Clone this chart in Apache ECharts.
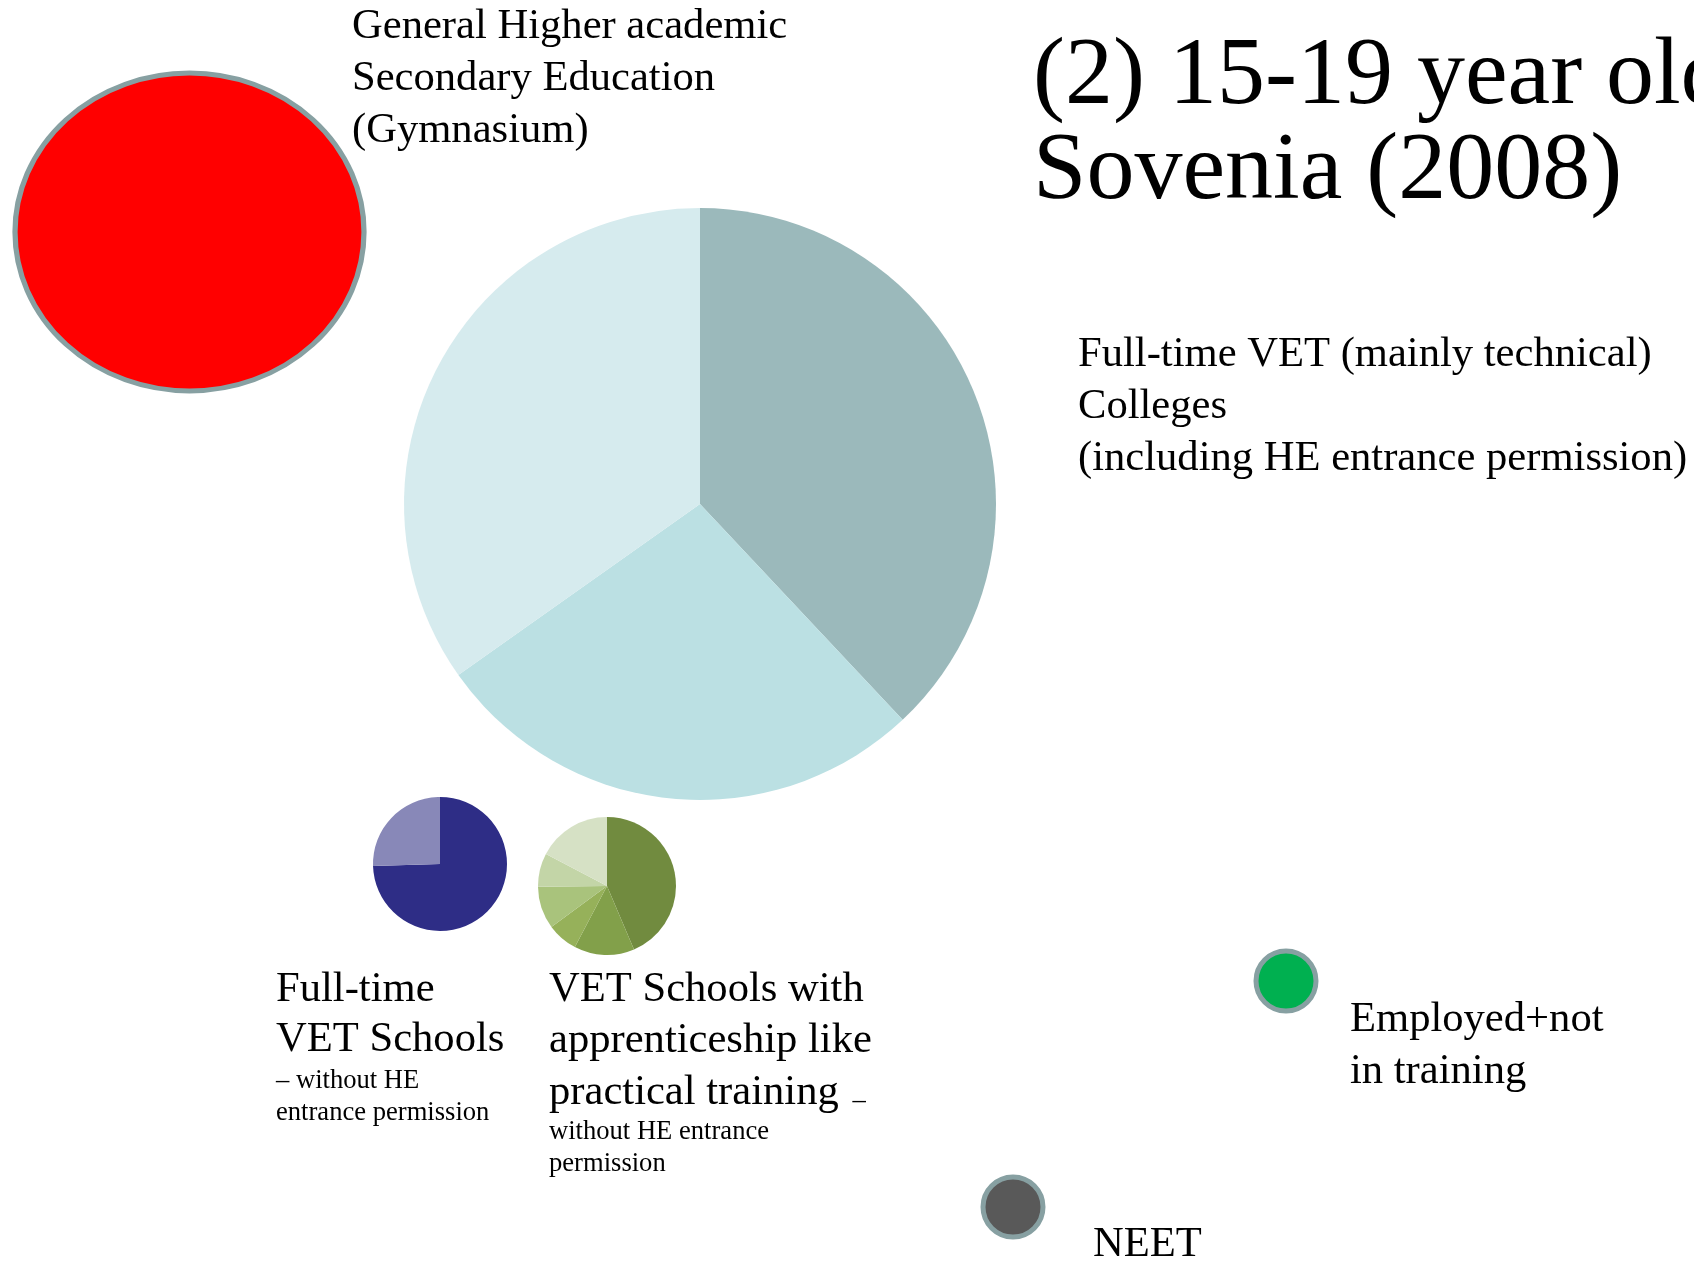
<!DOCTYPE html>
<html>
<head>
<meta charset="utf-8">
<script src="https://cdn.jsdelivr.net/npm/echarts@6/dist/echarts.min.js"></script>
<style>
  html, body { margin: 0; padding: 0; background: #ffffff; }
  #chart { width: 1694px; height: 1263px; }
</style>
</head>
<body>
<div id="chart"></div>
<script>
// Shares (%) of the sub-tracks inside each split bubble
const collegeShares = [38.0, 27.2, 34.8];
const vetSchoolShares = [74.5, 25.5];
const apprenticeShares = [43.6, 14.1, 7.2, 9.9, 7.9, 17.3];

// Single-colour bubbles
const soloNames = ['General Higher academic Secondary Education (Gymnasium)', 'Employed+not in training', 'NEET'];
const soloValues = [100, 100, 100];

// Text blocks
const titleLines = ['(2) 15-19 year olds in', 'Sovenia (2008)'];
const gymnasiumLines = ['General Higher academic', 'Secondary Education', '(Gymnasium)'];
const collegeLines = ['Full-time VET (mainly technical)', 'Colleges', '(including HE entrance permission)'];
const vetSchoolLines = ['Full-time', 'VET Schools'];
const vetSchoolNotes = ['– without HE', 'entrance permission'];
const apprenticeLines = ['VET Schools with', 'apprenticeship like', 'practical training'];
const apprenticeNotes = ['without HE entrance', 'permission'];
const employedLines = ['Employed+not', 'in training'];
const neetLines = ['NEET'];

// Palettes
const collegeColors = ['#9bb9bb', '#bbe0e3', '#d6ebee'];
const vetSchoolColors = ['#2e2d86', '#8888b8'];
const apprenticeColors = ['#718b3f', '#82a04a', '#96b15a', '#a9c37c', '#c3d5a7', '#d6e1c5'];
const soloColors = ['#ff0000', '#00b050', '#595959'];
const ringColor = '#87a0a2';

// Page layout (pixels)
const layout = {
  college: { center: [700, 504], radius: 296 },
  vetSchool: { center: [440, 864], radius: 67 },
  apprentice: { center: [607, 886], radius: 69 },
  solo: [
    { x: 189.5, y: 232, w: 349, h: 318, border: 5 },
    { x: 1286, y: 981, w: 60, h: 60, border: 5 },
    { x: 1013, y: 1207, w: 60, h: 60, border: 5 }
  ]
};

const SERIF = '"Liberation Serif", "Times New Roman", serif';
const ELLIPSE = 'path://M0,50 A50,50 0 1,1 100,50 A50,50 0 1,1 0,50 Z';
const MID = 0.285; // distance from the text middle to its baseline, in em
const BODY = 42.6;
const NOTE = 26.6;

function pieSeries(name, values, colors, place) {
  return {
    type: 'pie',
    name: name,
    center: place.center,
    radius: place.radius,
    startAngle: 90,
    clockwise: true,
    silent: true,
    label: { show: false },
    labelLine: { show: false },
    itemStyle: { borderWidth: 0 },
    data: values.map((v, i) => ({ value: v, itemStyle: { color: colors[i] } }))
  };
}

// One text line, placed by its baseline
function line(text, x, baseline, size) {
  return {
    type: 'text',
    silent: true,
    style: {
      text: text,
      x: x,
      y: baseline - size * MID,
      font: size + 'px ' + SERIF,
      fill: '#000000',
      align: 'left',
      verticalAlign: 'middle'
    }
  };
}

function block(lines, x, baselines, size) {
  return lines.map((t, i) => line(t, x, baselines[i], size));
}

const graphics = [].concat(
  block(titleLines, 1033, [105, 200], 96),
  block(gymnasiumLines, 352, [39, 91, 143], BODY),
  block(collegeLines, 1078, [367, 419, 471], BODY),
  block(vetSchoolLines, 276, [1002, 1052], BODY),
  block(vetSchoolNotes, 276, [1089, 1121], NOTE),
  block(apprenticeLines.slice(0, 2), 549, [1002, 1053], BODY),
  [{
    type: 'text',
    silent: true,
    style: {
      text: '{b|' + apprenticeLines[2] + ' }{s|–}',
      x: 549,
      y: 1105 - BODY * MID,
      align: 'left',
      verticalAlign: 'middle',
      rich: {
        b: { font: BODY + 'px ' + SERIF, fill: '#000000' },
        s: { font: NOTE + 'px ' + SERIF, fill: '#000000', verticalAlign: 'bottom', padding: [0, 0, 0, 3] }
      }
    }
  }],
  block(apprenticeNotes, 549, [1140, 1172], NOTE),
  block(employedLines, 1350, [1032, 1084], BODY),
  block(neetLines, 1093, [1257], BODY)
);

const chart = echarts.init(document.getElementById('chart'), null, { renderer: 'canvas' });
chart.setOption({
  backgroundColor: '#ffffff',
  animation: false,
  grid: { left: 0, right: 0, top: 0, bottom: 0 },
  xAxis: { type: 'value', min: 0, max: 1694, show: false },
  yAxis: { type: 'value', min: 0, max: 1263, inverse: true, show: false },
  series: [
    {
      type: 'scatter',
      name: 'single',
      silent: true,
      symbol: ELLIPSE,
      data: soloNames.map((n, i) => ({
        name: n,
        value: [layout.solo[i].x, layout.solo[i].y, soloValues[i]],
        symbolSize: [layout.solo[i].w, layout.solo[i].h],
        itemStyle: { color: soloColors[i], borderColor: ringColor, borderWidth: layout.solo[i].border, opacity: 1 }
      }))
    },
    pieSeries('Full-time VET Colleges', collegeShares, collegeColors, layout.college),
    pieSeries('Full-time VET Schools', vetSchoolShares, vetSchoolColors, layout.vetSchool),
    pieSeries('VET Schools with apprenticeship', apprenticeShares, apprenticeColors, layout.apprentice)
  ],
  graphic: graphics
});
</script>
</body>
</html>
